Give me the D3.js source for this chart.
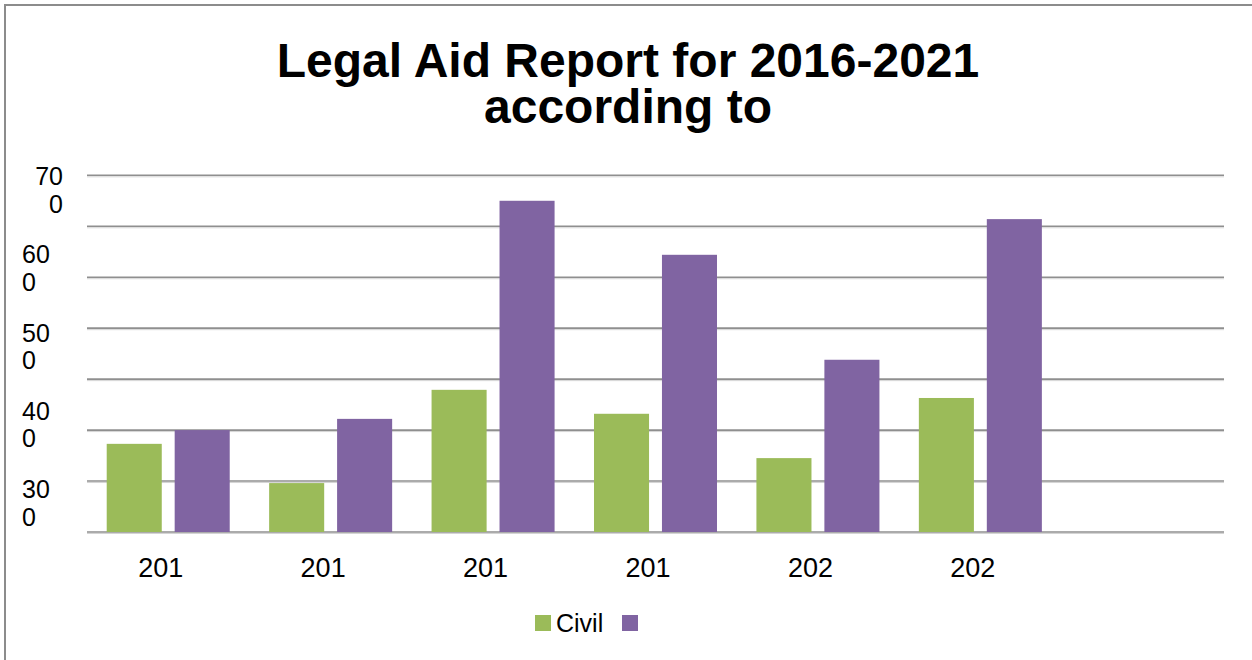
<!DOCTYPE html>
<html>
<head>
<meta charset="utf-8">
<script src="https://cdn.jsdelivr.net/npm/d3@7"></script>
<style>
  html, body { margin: 0; padding: 0; background: #fff; }
  svg { display: block; }
  text { font-family: "Liberation Sans", Arial, sans-serif; }
</style>
</head>
<body>
<div id="chart"></div>
<script>
// ---- data ----
const titleLines = ["Legal Aid Report for 2016-2021", "according to"];
const categories = ["2016", "2017", "2018", "2019", "2020", "2021"];
const seriesNames = ["Civil", ""];
const civilValues = [173, 96, 279, 232, 145, 263];
const otherValues = [200, 222, 650, 544, 338, 614];
const yTickValues = [0, 100, 200, 300, 400, 500, 600, 700];
const yTickLabels = ["700", "600", "500", "400", "300"];
const seriesColors = ["#9BBB59", "#8064A2"];

// ---- layout ----
const W = 1252, H = 660;
const plot = { left: 87, right: 1224, top: 175.3, bottom: 532 };

const svg = d3.select("#chart").append("svg").attr("width", W).attr("height", H);

// border (only top/left visible in frame)
svg.append("rect").attr("x", 5).attr("y", 5).attr("width", 1400).attr("height", 800)
  .attr("fill", "none").attr("stroke", "#8c8c8c").attr("stroke-width", 2);

// title
const title = svg.append("g").attr("text-anchor", "middle")
  .attr("font-size", 48).attr("font-weight", "bold").attr("fill", "#000");
title.selectAll("text").data(titleLines).join("text")
  .attr("x", 628).attr("y", (d, i) => 77 + i * 46).text(d => d);

// scales
const slots = [...categories, ""];
const x0 = d3.scaleBand().domain(slots).range([plot.left, plot.right]);
const x1 = d3.scaleBand().domain(seriesNames.map((d, i) => i))
  .range([0, x0.bandwidth()]).paddingInner(0.19).paddingOuter(0.29);
const y = d3.scaleLinear().domain([0, 700]).range([plot.bottom, plot.top]);

// gridlines
const grid = svg.append("g");
grid.selectAll("line.shadow").data(yTickValues).join("line").attr("class", "shadow")
  .attr("x1", plot.left).attr("x2", plot.right)
  .attr("y1", d => y(d) + 1.5).attr("y2", d => y(d) + 1.5)
  .attr("stroke", "#d4d4d4").attr("stroke-width", 1);
grid.selectAll("line.main").data(yTickValues).join("line").attr("class", "main")
  .attr("x1", plot.left).attr("x2", plot.right)
  .attr("y1", d => y(d)).attr("y2", d => y(d))
  .attr("stroke", "#8f8f8f").attr("stroke-width", 1.6);

// bars
const seriesData = [civilValues, otherValues];
const groups = svg.append("g").selectAll("g").data(categories).join("g")
  .attr("transform", d => `translate(${x0(d)},0)`);
groups.selectAll("rect").data((c, ci) => seriesData.map((vals, si) => ({ si, v: vals[ci] })))
  .join("rect")
  .attr("x", d => x1(d.si)).attr("width", x1.bandwidth())
  .attr("y", d => y(d.v)).attr("height", d => y(0) - y(d.v))
  .attr("fill", d => seriesColors[d.si]);

// y labels (wrapped, as in the reference)
const yLab = d3.scalePoint().domain(yTickLabels).range([185, 498]);
const yl = svg.append("g").attr("font-size", 25).attr("fill", "#000");
yTickLabels.forEach((lab, i) => {
  const first = i === 0;
  const t = yl.append("text")
    .attr("text-anchor", first ? "end" : "start");
  const xx = first ? 63 : 22;
  t.append("tspan").attr("x", xx).attr("y", yLab(lab)).text(lab.slice(0, 2));
  t.append("tspan").attr("x", xx).attr("y", yLab(lab) + 27.5).text(lab.slice(2));
});

// x labels (truncated, positioned as full label centred)
const xl = svg.append("g").attr("font-size", 27).attr("fill", "#000");
categories.forEach(c => {
  const cx = x0(c) + x0.bandwidth() / 2;
  const tmp = xl.append("text").text(c);
  const full = tmp.node().getComputedTextLength();
  tmp.remove();
  xl.append("text").attr("x", cx - full / 2).attr("y", 577).text(c.slice(0, 3));
});

// legend
const lg = svg.append("g");
const legendX = d3.scaleOrdinal().domain(seriesNames.map((d, i) => i)).range([535, 622]);
seriesNames.forEach((name, i) => {
  lg.append("rect").attr("x", legendX(i)).attr("y", 615).attr("width", 16).attr("height", 16)
    .attr("fill", seriesColors[i]);
  if (name) lg.append("text").attr("x", legendX(i) + 21).attr("y", 632)
    .attr("font-size", 25).attr("fill", "#000").text(name);
});
</script>
</body>
</html>
